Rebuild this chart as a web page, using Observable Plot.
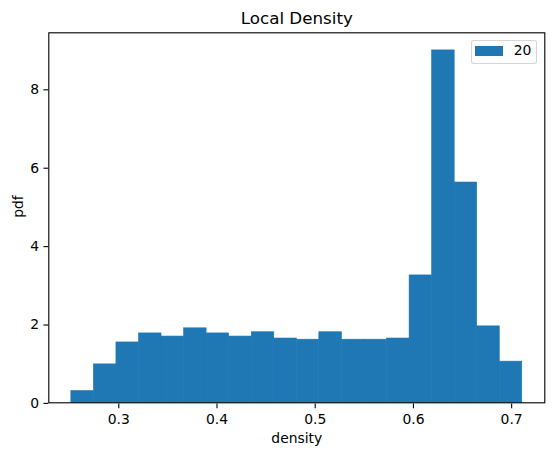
<!DOCTYPE html>
<html>
<head>
<meta charset="utf-8">
<script src="https://cdn.jsdelivr.net/npm/d3@7"></script>
<script src="https://cdn.jsdelivr.net/npm/@observablehq/plot@0.6"></script>
<style>
  html, body { margin: 0; padding: 0; background: #fff; }
  #wrap { position: relative; width: 554px; height: 455px; font-family: "DejaVu Sans", sans-serif; }
  #wrap svg { display: block; }
  .legend { position: absolute; left: 470.7px; top: 39.7px; width: 64.6px; height: 22.6px;
            border: 1px solid rgba(204,204,204,0.8); border-radius: 3px; background: rgba(255,255,255,0.8); }
  .legend .patch { position: absolute; left: 3.6px; top: 5.3px; width: 27.7px; height: 9.7px; background: #1f77b4; }
  .legend .lbl { position: absolute; left: 42px; top: 3.2px; font-size: 13.9px; line-height: 1; color: #000; white-space: nowrap; }
</style>
</head>
<body>
<div id="wrap"></div>
<script>
// Histogram of local density (20 bins), pdf-normalised
const binEdges = [0.2517, 0.2747, 0.2976, 0.3206, 0.3435, 0.3665, 0.3894, 0.4124, 0.4354, 0.4583,
                  0.4813, 0.5042, 0.5272, 0.5501, 0.5731, 0.5961, 0.6190, 0.6420, 0.6649, 0.6879, 0.7108];
const pdfValues = [0.30, 0.98, 1.54, 1.77, 1.69, 1.90, 1.77, 1.69, 1.80, 1.64,
                   1.61, 1.80, 1.61, 1.61, 1.64, 3.25, 8.99, 5.62, 1.95, 1.05];
const xTicks = [0.3, 0.4, 0.5, 0.6, 0.7];
const yTicks = [0, 2, 4, 6, 8];
const titleText = "Local Density";
const xLabel = "density";
const yLabel = "pdf";
const seriesLabel = "20";

const bins = pdfValues.map((v, i) => ({x1: binEdges[i], x2: binEdges[i + 1], pdf: v}));
const span = binEdges[binEdges.length - 1] - binEdges[0];
const xDomain = [binEdges[0] - 0.05 * span, binEdges[binEdges.length - 1] + 0.05 * span];
const yMax = d3.max(pdfValues) * 1.05;

const chart = Plot.plot({
  width: 554,
  height: 455,
  marginLeft: 48.3,
  marginRight: 9.7,
  marginTop: 32.3,
  marginBottom: 52.7,
  style: {fontFamily: "DejaVu Sans, sans-serif", fontSize: "13.9px", color: "#000", background: "#fff"},
  x: {domain: xDomain},
  y: {domain: [0, yMax]},
  marks: [
    Plot.rectY(bins, {x1: "x1", x2: "x2", y1: 0, y2: "pdf", fill: "#1f77b4", stroke: "#1f77b4", strokeWidth: 0.6, inset: 0}),
    Plot.frame({stroke: "#000", strokeWidth: 1.1}),
    Plot.axisX({ticks: xTicks, tickFormat: d3.format(".1f"), tickSize: 4.86, tickPadding: 4.86,
                strokeWidth: 1.1, label: null, fontSize: 13.9, dy: 1.2}),
    Plot.axisY({ticks: yTicks, tickFormat: d3.format("d"), tickSize: 4.86, tickPadding: 4.86,
                strokeWidth: 1.1, label: null, fontSize: 13.9, dy: 0.6}),
    Plot.text([titleText], {frameAnchor: "top", lineAnchor: "middle", dy: -14.6, fontSize: 16.7, fill: "#000"}),
    Plot.text([xLabel], {frameAnchor: "bottom", lineAnchor: "middle", dy: 35.3, fontSize: 13.9, fill: "#000"}),
    Plot.text([yLabel], {frameAnchor: "left", lineAnchor: "middle", dx: -30.6, rotate: -90, fontSize: 13.9, fill: "#000"})
  ]
});

const wrap = document.getElementById("wrap");
wrap.appendChild(chart);
const legend = document.createElement("div");
legend.className = "legend";
legend.innerHTML = `<div class="patch"></div><div class="lbl"></div>`;
legend.querySelector(".lbl").textContent = seriesLabel;
wrap.appendChild(legend);
</script>
</body>
</html>
